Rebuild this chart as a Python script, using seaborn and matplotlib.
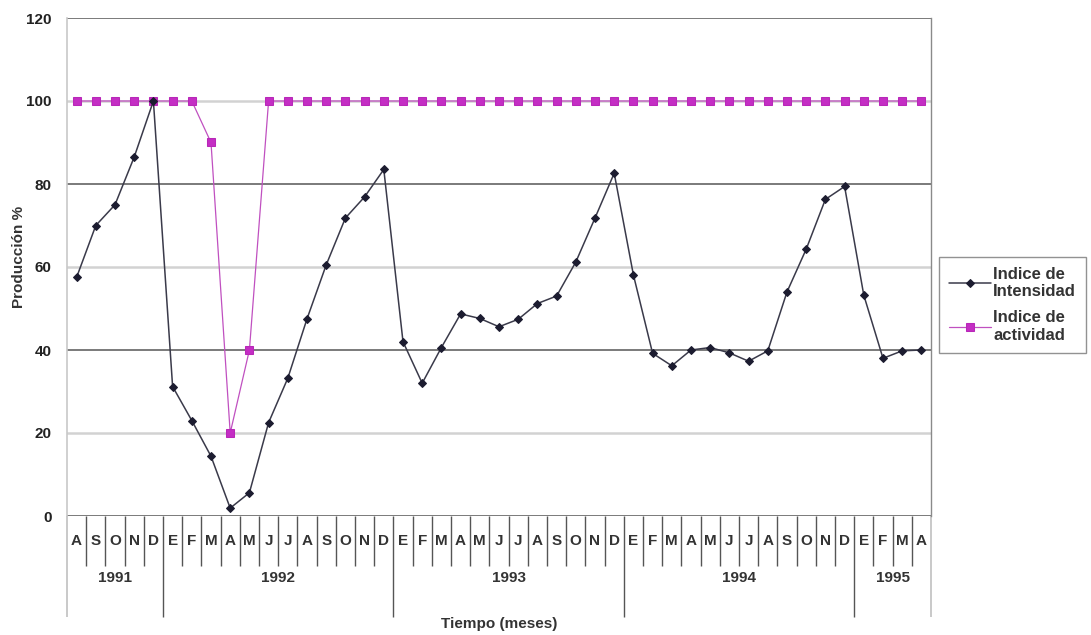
import numpy as np
import pandas as pd
import matplotlib
matplotlib.use("Agg")
import matplotlib.pyplot as plt
import matplotlib.transforms as mtransforms
import seaborn as sns

# ---- data ----
meses = (["A", "S", "O", "N", "D"]
         + ["E", "F", "M", "A", "M", "J", "J", "A", "S", "O", "N", "D"] * 3
         + ["E", "F", "M", "A"])
anios = ["1991", "1992", "1993", "1994", "1995"]
meses_por_anio = [5, 12, 12, 12, 4]

intensidad = [57.5, 70, 75, 86.5, 100,
              31.2, 23, 14.4, 1.9, 5.6, 22.5, 33.2, 47.5, 60.5, 71.8, 76.9, 83.5,
              42, 32, 40.6, 48.7, 47.6, 45.6, 47.4, 51.2, 53, 61.2, 71.8, 82.6,
              58.1, 39.2, 36.2, 40, 40.6, 39.3, 37.3, 39.8, 54, 64.3, 76.3, 79.4,
              53.2, 38, 39.8, 40]
actividad = [100, 100, 100, 100, 100,
             100, 100, 90, 20, 40, 100, 100, 100, 100, 100, 100, 100,
             100, 100, 100, 100, 100, 100, 100, 100, 100, 100, 100, 100,
             100, 100, 100, 100, 100, 100, 100, 100, 100, 100, 100, 100,
             100, 100, 100, 100]
y_ticks = [0, 20, 40, 60, 80, 100, 120]

sns.set_theme(style="white")
plt.rcParams["font.family"] = ["Liberation Sans", "DejaVu Sans"]

W, H = 1091, 635
fig = plt.figure(figsize=(W / 100, H / 100), dpi=100)
ax = fig.add_axes([67 / W, 1 - 516 / H, (931 - 67) / W, (516 - 18) / H])

pos = np.arange(len(meses))
df = pd.DataFrame({"pos": pos, "intensidad": intensidad, "actividad": actividad})

# gridlines (alternating dark / light like the scan)
for yv in y_ticks:
    dark = yv in (0, 40, 80, 120)
    ax.axhline(yv, color="#6f6f6f" if dark else "#d2d2d2",
               lw=1.3 if dark else 1.8, zorder=0.5)

sns.lineplot(data=df, x="pos", y="actividad", ax=ax, color="#c050c0",
             lw=0.9, marker="s", markersize=6, markeredgecolor="#b828b8",
             markerfacecolor="#c42ec4", label="Indice de\nactividad", legend=False,
             zorder=3)
sns.lineplot(data=df, x="pos", y="intensidad", ax=ax, color="#3a3a4a",
             lw=1.1, marker="D", markersize=4.5, markeredgecolor="#1c1c30",
             markerfacecolor="#1c1c30", label="Indice de\nIntensidad", legend=False,
             zorder=4)

ax.set_xlim(-0.5, len(meses) - 0.5)
ax.set_ylim(0, 120)
ax.set_yticks(y_ticks)
ax.tick_params(axis="y", left=False, length=0, pad=11, labelsize=11,
               labelcolor="#222222")
for lab in ax.get_yticklabels():
    lab.set_fontweight("bold")

for s in ["top", "bottom"]:
    ax.spines[s].set_visible(False)
ax.spines["left"].set_color("#c8c8c8")
ax.spines["left"].set_linewidth(1.2)
ax.spines["right"].set_color("#8a8a8a")
ax.spines["right"].set_linewidth(1.0)

# month labels
ax.set_xticks(pos)
ax.set_xticklabels(meses)
ax.tick_params(axis="x", which="major", bottom=True, length=0, pad=13,
               labelsize=11, labelcolor="#333333")
for lab in ax.get_xticklabels():
    lab.set_fontweight("bold")

# month separators (minor ticks)
bounds = np.arange(-0.5, len(meses) + 0.5, 1.0)
year_bounds = np.concatenate([[-0.5], np.cumsum(meses_por_anio) - 0.5])
month_bounds = [b for b in bounds if b not in set(year_bounds)]
ax.set_xticks(month_bounds, minor=True)
ax.tick_params(axis="x", which="minor", bottom=True, length=36, width=1.0,
               color="#555555", direction="out")

# year separators
sec = ax.secondary_xaxis("bottom")
sec.set_xticks(year_bounds[1:-1])
sec.set_xticklabels([])
sec.tick_params(axis="x", bottom=True, length=73, width=1.0, color="#555555")
sec.spines["bottom"].set_visible(False)
sec2 = ax.secondary_xaxis("bottom")
sec2.set_xticks([year_bounds[0], year_bounds[-1]])
sec2.set_xticklabels([])
sec2.tick_params(axis="x", bottom=True, length=73, width=1.2, color="#c0c0c0")
sec2.spines["bottom"].set_visible(False)

# year labels
trans = mtransforms.blended_transform_factory(ax.transData, ax.transAxes)
centers = (year_bounds[:-1] + year_bounds[1:]) / 2
for c, yl in zip(centers, anios):
    ax.text(c, -62 / 498, yl, transform=trans, ha="center", va="center",
            fontsize=11, fontweight="bold", color="#333333")

ax.set_xlabel("Tiempo (meses)", fontsize=11, fontweight="bold", color="#333333",
              va="center")
ax.xaxis.set_label_coords(0.5, -(624 - 516) / 498)
ax.set_ylabel("Producción %", fontsize=11, fontweight="bold", color="#333333",
              va="center")
ax.yaxis.set_label_coords(-(67 - 19) / 864, 0.52)

handles, labels = ax.get_legend_handles_labels()
handles, labels = handles[::-1], labels[::-1]
leg = fig.legend(handles, labels, loc="upper left",
                 bbox_to_anchor=(939 / W, 1 - 257 / H), frameon=True,
                 fancybox=False, edgecolor="#777777", fontsize=12,
                 handlelength=2.5, handletextpad=0.15, borderpad=0.6,
                 labelspacing=0.65, borderaxespad=0)
leg.get_frame().set_linewidth(1.0)
for t in leg.get_texts():
    t.set_fontweight("bold")
    t.set_color("#333333")

fig.savefig("out.png", dpi=100, facecolor="white")
